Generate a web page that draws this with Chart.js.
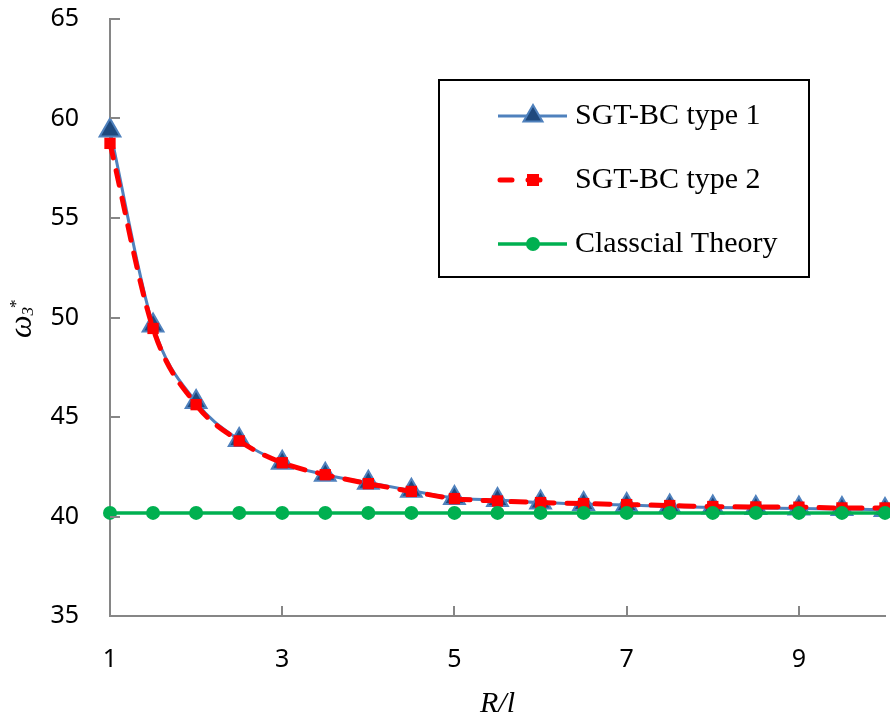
<!DOCTYPE html>
<html lang="en">
    <head>
        <meta charset="UTF-8" />
        <title>omega3 vs R/l</title>
        <script src="https://cdn.jsdelivr.net/npm/chart.js"></script>
        <style>
            body { margin: 0; background: #fff; }
        </style>
    </head>
    <body>
        <canvas id="chart" width="890" height="719"></canvas>
        <script>
            // values
            const rl = [1, 1.5, 2, 2.5, 3, 3.5, 4, 4.5, 5, 5.5, 6, 6.5, 7, 7.5, 8, 8.5, 9, 9.5, 10];
            const sgtType1 = [59.4, 49.6, 45.75, 43.85, 42.7, 42.1, 41.7, 41.3, 40.93, 40.83, 40.7, 40.63, 40.58, 40.5, 40.45, 40.43, 40.4, 40.38, 40.33];
            const sgtType2 = [58.75, 49.45, 45.62, 43.8, 42.7, 42.1, 41.65, 41.26, 40.9, 40.78, 40.7, 40.65, 40.6, 40.55, 40.5, 40.48, 40.47, 40.43, 40.43];
            const classical = [40.18, 40.18, 40.18, 40.18, 40.18, 40.18, 40.18, 40.18, 40.18, 40.18, 40.18, 40.18, 40.18, 40.18, 40.18, 40.18, 40.18, 40.18, 40.18];
            const seriesNames = ["SGT-BC type 1", "SGT-BC type 2", "Classcial Theory"];
            const xTicks = [1, 3, 5, 7, 9];
            const yTicks = [35, 40, 45, 50, 55, 60, 65];

            const axisGray = "#868686";
            const tickFont = { family: "Noto Sans", size: 25 };

            const pairs = (ys) => rl.map((x, i) => ({ x: x, y: ys[i] }));

            const datasets = [
                {
                    label: seriesNames[0],
                    data: pairs(sgtType1),
                    borderColor: "#4F81BD",
                    borderWidth: 3,
                    pointStyle: "triangle",
                    pointRadius: 12,
                    pointBackgroundColor: "#1F497D",
                    pointBorderColor: "#4F81BD",
                    pointBorderWidth: 2,
                    cubicInterpolationMode: "monotone",
                    order: 3,
                },
                {
                    label: seriesNames[1],
                    data: pairs(sgtType2),
                    borderColor: "#FF0000",
                    borderWidth: 5,
                    borderDash: [15, 13],
                    borderCapStyle: "round",
                    pointStyle: "rect",
                    pointRadius: 8,
                    pointBackgroundColor: "#FF0000",
                    pointBorderWidth: 0,
                    cubicInterpolationMode: "monotone",
                    order: 2,
                },
                {
                    label: seriesNames[2],
                    data: pairs(classical),
                    borderColor: "#00B050",
                    borderWidth: 3.5,
                    pointStyle: "circle",
                    pointRadius: 7,
                    pointBackgroundColor: "#00B050",
                    pointBorderWidth: 0,
                    order: 1,
                },
            ];
            datasets.forEach((d) => { d.clip = false; d.fill = false; });

            // inward tick marks like the original
            const innerTicks = {
                id: "innerTicks",
                afterDraw(chart) {
                    const { ctx, chartArea } = chart;
                    const xs = chart.scales.x, ys = chart.scales.y;
                    ctx.save();
                    ctx.strokeStyle = axisGray;
                    ctx.lineWidth = 2;
                    ctx.beginPath();
                    yTicks.slice(1).forEach((v) => {
                        const py = Math.round(ys.getPixelForValue(v));
                        ctx.moveTo(chartArea.left, py);
                        ctx.lineTo(chartArea.left + 10, py);
                    });
                    xTicks.slice(1).forEach((v) => {
                        const px = Math.round(xs.getPixelForValue(v));
                        ctx.moveTo(px, chartArea.bottom);
                        ctx.lineTo(px, chartArea.bottom - 10);
                    });
                    ctx.stroke();
                    ctx.restore();
                },
            };

            // y axis title: italic omega, subscript 3, superscript star
            const yTitle = {
                id: "yTitle",
                afterDraw(chart) {
                    const ctx = chart.ctx;
                    ctx.save();
                    ctx.translate(31, 338);
                    ctx.rotate(-Math.PI / 2);
                    ctx.fillStyle = "#000";
                    ctx.textBaseline = "alphabetic";
                    ctx.textAlign = "left";
                    ctx.font = "italic 32px 'Liberation Serif'";
                    ctx.fillText("ω", 0, 0);
                    let u = ctx.measureText("ω").width;
                    ctx.font = "italic 17px 'Liberation Serif'";
                    ctx.fillText("3", u, 2);
                    u += ctx.measureText("3").width;
                    ctx.font = "17px 'Liberation Serif'";
                    ctx.fillText("*", u - 1, -10);
                    ctx.restore();
                },
            };

            // boxed legend with line samples
            const boxLegend = {
                id: "boxLegend",
                afterDraw(chart) {
                    const ctx = chart.ctx;
                    ctx.save();
                    ctx.strokeStyle = "#000";
                    ctx.lineWidth = 2;
                    ctx.strokeRect(439, 80, 370, 197);
                    const rows = [116, 180, 244];
                    chart.data.datasets.forEach((d, i) => {
                        const y = rows[i];
                        ctx.strokeStyle = d.borderColor;
                        ctx.lineWidth = d.borderWidth;
                        ctx.lineCap = d.borderCapStyle || "butt";
                        ctx.setLineDash(d.borderDash ? [12, 16] : []);
                        ctx.beginPath();
                        ctx.moveTo(d.borderDash ? 500 : 498, y);
                        ctx.lineTo(d.borderDash ? 551 : 567, y);
                        ctx.stroke();
                        ctx.setLineDash([]);
                        const cx = 533;
                        ctx.fillStyle = d.pointBackgroundColor;
                        ctx.beginPath();
                        if (d.pointStyle === "triangle") {
                            const r = 11;
                            ctx.moveTo(cx, y - r);
                            ctx.lineTo(cx + r * 0.866, y + r * 0.5);
                            ctx.lineTo(cx - r * 0.866, y + r * 0.5);
                            ctx.closePath();
                            ctx.fill();
                            ctx.strokeStyle = d.pointBorderColor;
                            ctx.lineWidth = 2;
                            ctx.stroke();
                        } else if (d.pointStyle === "rect") {
                            ctx.rect(cx - 6, y - 6, 12, 12);
                            ctx.fill();
                        } else {
                            ctx.arc(cx, y, 7, 0, Math.PI * 2);
                            ctx.fill();
                        }
                        ctx.fillStyle = "#000";
                        ctx.font = "30px 'Liberation Serif'";
                        ctx.textBaseline = "middle";
                        ctx.textAlign = "left";
                        ctx.fillText(d.label, 575, y);
                    });
                    ctx.restore();
                },
            };

            new Chart(document.getElementById("chart"), {
                type: "line",
                data: { datasets: datasets },
                plugins: [innerTicks, yTitle, boxLegend],
                options: {
                    responsive: false,
                    animation: false,
                    events: [],
                    layout: { autoPadding: false, padding: { top: 19, right: 5, left: 0, bottom: 0 } },
                    plugins: { legend: { display: false }, tooltip: { enabled: false } },
                    scales: {
                        x: {
                            type: "linear",
                            min: 1,
                            max: 10,
                            afterBuildTicks: (s) => { s.ticks = xTicks.map((v) => ({ value: v })); },
                            afterFit: (s) => { s.height = 103; s.paddingLeft = 0; s.paddingRight = 0; },
                            grid: { display: false, drawTicks: false },
                            border: { display: true, color: axisGray, width: 2 },
                            ticks: { color: "#000", font: tickFont, padding: 29, maxRotation: 0 },
                            title: {
                                display: true,
                                text: "R/l",
                                color: "#000",
                                font: { family: "Liberation Serif", size: 30, style: "italic" },
                                padding: { top: 0, bottom: -3 },
                            },
                        },
                        y: {
                            min: 35,
                            max: 65,
                            afterBuildTicks: (s) => { s.ticks = yTicks.map((v) => ({ value: v })); },
                            afterFit: (s) => { s.width = 110; s.paddingTop = 0; s.paddingBottom = 0; },
                            grid: { display: false, drawTicks: false },
                            border: { display: true, color: axisGray, width: 2 },
                            ticks: { color: "#000", font: tickFont, padding: 31 },
                        },
                    },
                },
            });
        </script>
    </body>
</html>
